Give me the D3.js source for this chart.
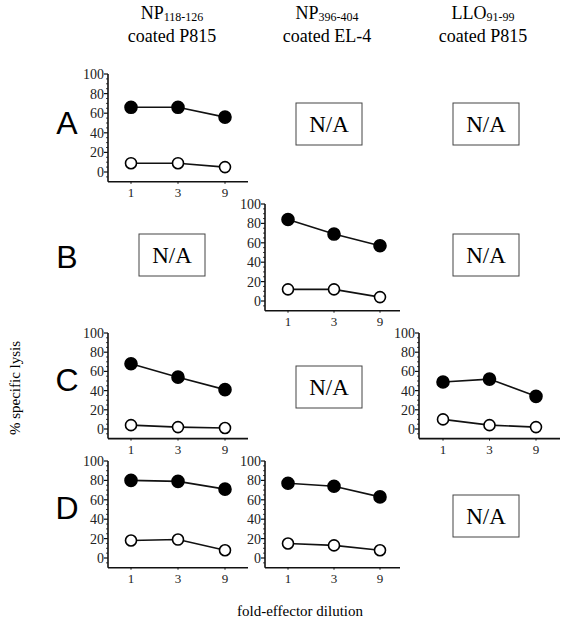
<!DOCTYPE html>
<html><head><meta charset="utf-8">
<script src="https://cdn.jsdelivr.net/npm/d3@7"></script>
<style>body{margin:0;background:#fff} .sf{font-family:"Liberation Serif","Times New Roman",serif} .ss{font-family:"Liberation Sans",Arial,sans-serif}</style>
</head><body>
<svg id="c" width="567" height="630"></svg>
<script>
const dilutions = [1, 3, 9];
const yTicks = [0, 20, 40, 60, 80, 100];
const columnHeaders = [
  {main: "NP", sub: "118-126", line2: "coated P815"},
  {main: "NP", sub: "396-404", line2: "coated EL-4"},
  {main: "LLO", sub: "91-99", line2: "coated P815"}
];
const rowLabels = ["A", "B", "C", "D"];
// panels: row, col, filled (immunized) series, open (control) series
const panelRow = ["A", "B", "C", "C", "D", "D"];
const panelCol = [0, 1, 0, 2, 0, 1];
const filledVals = [
  [66, 66, 56],
  [84, 69, 57],
  [68, 54, 41],
  [49, 52, 34],
  [80, 79, 71],
  [77, 74, 63]
];
const openVals = [
  [9, 9, 5],
  [12, 12, 4],
  [4, 2, 1],
  [10, 4, 2],
  [18, 19, 8],
  [15, 13, 8]
];
const naRow = ["A", "A", "B", "B", "C", "D"];
const naCol = [1, 2, 0, 2, 1, 2];

// layout (positions only)
const colAxisX = [108, 265, 419];
const colX1 = [131, 288, 443];
const colX9 = [225, 380, 536];
const colRight = [248, 400, 560];
const rowTop = {A: 74, B: 204, C: 333, D: 461};
const rowZero = {A: 172, B: 301, C: 429, D: 558};
const rowLabelY = {A: 134, B: 268, C: 391, D: 519};
const naBoxX = [139, 296, 453];
const naBoxY = {A: 103, B: 234, C: 366, D: 495};

const svg = d3.select("#c");

// headers
const headerCX = [172, 327, 483];
columnHeaders.forEach((h, i) => {
  const t = svg.append("text").attr("class", "sf").attr("x", headerCX[i]).attr("y", 19)
    .attr("text-anchor", "middle").attr("font-size", 18);
  t.append("tspan").text(h.main);
  t.append("tspan").attr("font-size", 12).attr("dy", 2).text(h.sub);
  svg.append("text").attr("class", "sf").attr("x", headerCX[i]).attr("y", 42)
    .attr("text-anchor", "middle").attr("font-size", 18)
    .text(h.line2);
});

// row labels
rowLabels.forEach(r => {
  svg.append("text").attr("class", "ss").attr("x", 67).attr("y", rowLabelY[r]).attr("text-anchor", "middle")
    .attr("font-size", 32).text(r);
});

// panels
panelRow.forEach((r, i) => {
  const c = panelCol[i];
  const y = d3.scaleLinear().domain([0, 100]).range([rowZero[r], rowTop[r]]);
  const x = d3.scaleLog().domain([1, 9]).range([colX1[c], colX9[c]]);
  const ax = colAxisX[c];
  const baseY = y(-10);
  const g = svg.append("g");
  // y axis
  g.append("line").attr("x1", ax).attr("x2", ax).attr("y1", y(100)).attr("y2", baseY)
    .attr("stroke", "#111").attr("stroke-width", 1.6);
  d3.range(-5, 101, 5).forEach(v => {
    const major = v % 20 === 0;
    const len = major ? 4 : 2;
    g.append("line").attr("x1", ax - len).attr("x2", ax).attr("y1", y(v)).attr("y2", y(v))
      .attr("stroke", "#111").attr("stroke-width", major ? 1.2 : 0.8);
  });
  yTicks.forEach(v => {
    g.append("text").attr("class", "sf").attr("x", ax - 4).attr("y", y(v) + 5).attr("text-anchor", "end")
      .attr("font-size", 14).attr("fill", "#222").text(v);
  });
  // x axis
  g.append("line").attr("x1", ax).attr("x2", colRight[c]).attr("y1", baseY).attr("y2", baseY)
    .attr("stroke", "#111").attr("stroke-width", 1.6);
  dilutions.forEach(d => {
    g.append("line").attr("x1", x(d)).attr("x2", x(d)).attr("y1", baseY).attr("y2", baseY + 2)
      .attr("stroke", "#111").attr("stroke-width", 1);
    g.append("text").attr("class", "sf").attr("x", x(d)).attr("y", baseY + 15).attr("text-anchor", "middle")
      .attr("font-size", 13).attr("fill", "#222").text(d);
  });
  const line = d3.line().x((v, k) => x(dilutions[k])).y(v => y(v));
  [filledVals[i], openVals[i]].forEach((vals, s) => {
    g.append("path").attr("d", line(vals)).attr("fill", "none")
      .attr("stroke", "#111").attr("stroke-width", 1.6);
    g.selectAll(null).data(vals).enter().append("circle")
      .attr("cx", (v, k) => x(dilutions[k])).attr("cy", v => y(v)).attr("r", s === 0 ? 6 : 5.5)
      .attr("fill", s === 0 ? "#000" : "#fff").attr("stroke", "#000").attr("stroke-width", 1.6);
  });
});

// N/A boxes
naRow.forEach((r, i) => {
  const c = naCol[i];
  svg.append("rect").attr("x", naBoxX[c]).attr("y", naBoxY[r]).attr("width", 66).attr("height", 42)
    .attr("fill", "#fff").attr("stroke", "#444").attr("stroke-width", 1);
  svg.append("text").attr("class", "sf").attr("x", naBoxX[c] + 33).attr("y", naBoxY[r] + 29).attr("text-anchor", "middle")
    .attr("font-size", 23).text("N/A");
});

// axis titles
svg.append("text").attr("class", "sf").attr("transform", "translate(20,388) rotate(-90)").attr("text-anchor", "middle")
  .attr("font-size", 15).text("% specific lysis");
svg.append("text").attr("class", "sf").attr("x", 300).attr("y", 616).attr("text-anchor", "middle")
  .attr("font-size", 15).text("fold-effector dilution");
</script>
</body></html>
